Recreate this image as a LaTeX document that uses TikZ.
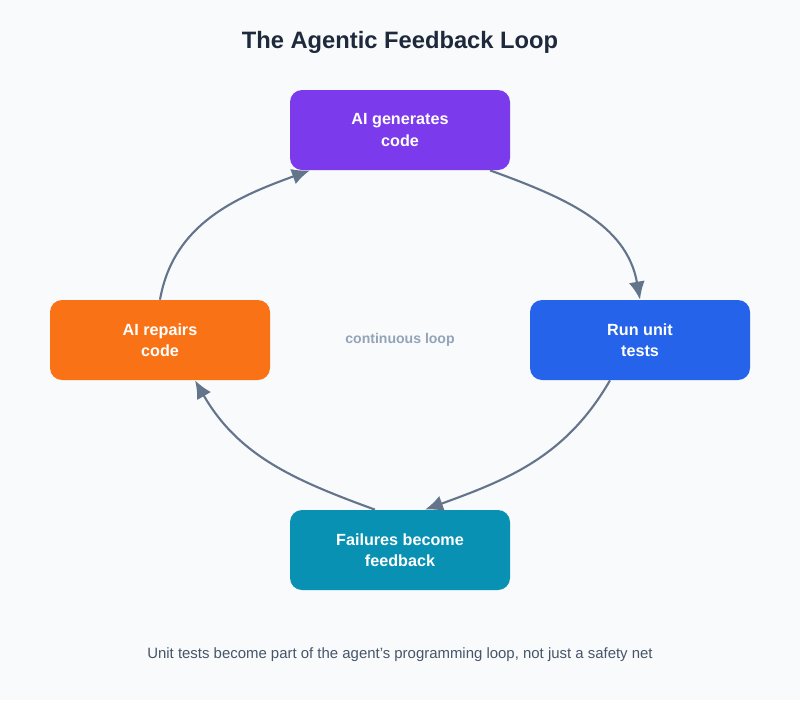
\documentclass[tikz,border=0pt]{standalone}
\usepackage{fontspec}
\setmainfont{Liberation Sans}
\usetikzlibrary{arrows.meta, positioning}
\definecolor{bgcol}{HTML}{F8FAFC}
\definecolor{titlecol}{HTML}{1E293B}
\definecolor{linkcol}{HTML}{64748B}
\definecolor{notecol}{HTML}{475569}
\definecolor{midcol}{HTML}{94A3B8}
\definecolor{genfill}{HTML}{7C3AED}
\definecolor{runfill}{HTML}{2563EB}
\definecolor{failfill}{HTML}{0891B2}
\definecolor{fixfill}{HTML}{F97316}

\begin{document}
\begin{tikzpicture}[>={Latex[length=3.6mm,width=3.2mm]},
  stagebox/.style={rectangle, rounded corners=0.24cm, minimum width=4.4cm, minimum height=1.6cm,
    text=white, align=center, font=\fontsize{9.2}{12}\selectfont\bfseries},
  link/.style={->, draw=linkcol, line width=1.2pt}]
        \fill[bgcol] (0,0) rectangle (16,-14);
        \useasboundingbox (0,0) rectangle (16,-14);

        \node at (8,-0.84) [font=\fontsize{13.5}{16}\selectfont\bfseries, text=titlecol] (title) {The Agentic Feedback Loop};

        \node at (8,-2.6) [stagebox, fill=genfill] (gen) {AI generates\\code};
        \node at (12.8,-6.8) [stagebox, fill=runfill] (run) {Run unit\\tests};
        \node at (8,-11) [stagebox, fill=failfill] (fail) {Failures become\\feedback};
        \node at (3.2,-6.8) [stagebox, fill=fixfill] (fix) {AI repairs\\code};

        \node at (8,-6.8) [font=\fontsize{8}{10}\selectfont\bfseries, text=midcol] (mid) {continuous loop};
        \node at (8,-13.1) [font=\fontsize{8.5}{10}\selectfont, text=notecol] (note) {Unit tests become part of the agent's programming loop, not just a safety net};

        \draw[link] ([xshift=1.8cm]gen.south) to[out=-20, in=100] (run.north);
        \draw[link] ([xshift=-0.6cm]run.south) to[out=-120, in=20] ([xshift=0.5cm]fail.north);
        \draw[link] ([xshift=-0.5cm]fail.north) to[out=160, in=-60] ([xshift=0.7cm]fix.south);
        \draw[link] (fix.north) to[out=80, in=200] ([xshift=-1.8cm]gen.south);
\end{tikzpicture}
\end{document}
